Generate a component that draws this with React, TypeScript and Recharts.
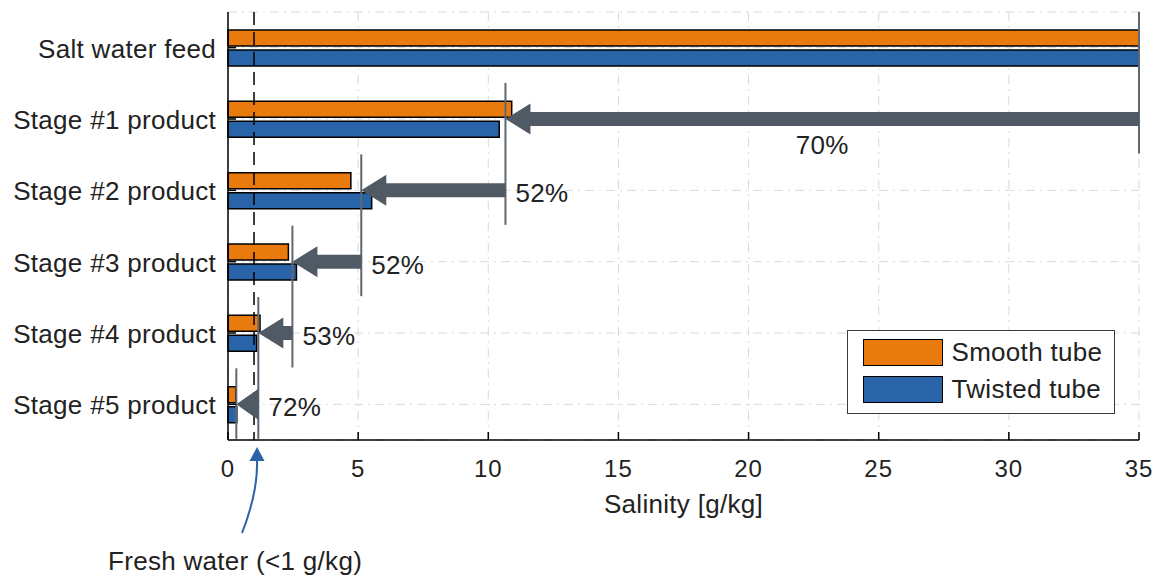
import React from 'react';
import { BarChart, Bar, XAxis, YAxis, CartesianGrid, Legend, ReferenceLine } from 'recharts';

// Salinity after each desalination stage, g/kg
const categories = [
  'Salt water feed',
  'Stage #1 product',
  'Stage #2 product',
  'Stage #3 product',
  'Stage #4 product',
  'Stage #5 product',
];
const smoothTube = [35, 10.9, 4.72, 2.32, 1.23, 0.3];
const twistedTube = [35, 10.42, 5.52, 2.63, 1.1, 0.34];
// salinity drop of each stage relative to its feed
const reductions = ['70%', '52%', '52%', '53%', '72%'];
const xTicks = [0, 5, 10, 15, 20, 25, 30, 35];
const freshWaterLimit = 1;

const data = categories.map((name, i) => ({ name, smooth: smoothTube[i], twisted: twistedTube[i] }));
const stageMeans = categories.map((_, i) => (smoothTube[i] + twistedTube[i]) / 2);

const FONT = '"Liberation Sans", Arial, Helvetica, sans-serif';
const TEXT = '#222';
const SMOOTH = '#E97B0E';
const TWISTED = '#2964A9';
const ARROW = '#505A64';
const MARK = '#5E6873';
const FRESH = '#2A63A8';

const textStyle = { fontFamily: FONT, fontSize: 26, letterSpacing: 0.3, fill: TEXT };

const BottomTick = (props: any) => {
  const { x, y, payload } = props;
  return (
    <g>
      <line x1={x} x2={x} y1={y} y2={y - 8} stroke="#000" strokeWidth={1.5} />
      <text x={x} y={y + 37} textAnchor="middle" style={{ ...textStyle, fontSize: 24, letterSpacing: 1 }}>
        {payload.value}
      </text>
    </g>
  );
};

const TopTick = (props: any) => {
  const { x, y } = props;
  return <line x1={x} x2={x} y1={y} y2={y + 8} stroke="#000" strokeWidth={1.5} />;
};

const LeftTick = (props: any) => {
  const { x, y, payload } = props;
  return (
    <g>
      <line x1={x} x2={x + 8} y1={y} y2={y} stroke="#000" strokeWidth={1.5} />
      <text x={x - 12} y={y + 10} textAnchor="end" style={textStyle}>
        {payload.value}
      </text>
    </g>
  );
};

const RightTick = (props: any) => {
  const { x, y } = props;
  return <line x1={x} x2={x - 8} y1={y} y2={y} stroke="#000" strokeWidth={1.5} />;
};

const AxisTitle = (props: any) => {
  const { viewBox } = props;
  return (
    <text x={viewBox.x + viewBox.width / 2} y={viewBox.y + 73} textAnchor="middle" style={textStyle}>
      Salinity [g/kg]
    </text>
  );
};

// vertical marker at a stage's mean salinity, reaching from its own row down to the next one
const StageMarker = (props: any) => {
  const { x1, y1, y2 } = props;
  return <line x1={x1} x2={x1} y1={y1 - 36} y2={y2 + 34.5} stroke={MARK} strokeWidth={2} />;
};

// block arrow from the previous stage's mean to this stage's mean
const makeArrow = (label: string, below: boolean) => (props: any) => {
  const { x1, x2, y1 } = props;
  const start = Math.max(x1, x2);
  const tip = Math.min(x1, x2);
  const head = Math.min(25, start - tip);
  const y = y1;
  const pts = [
    [tip, y],
    [tip + head, y - 15.5],
    [tip + head, y - 7],
    [start, y - 7],
    [start, y + 7],
    [tip + head, y + 7],
    [tip + head, y + 15.5],
  ]
    .map((p) => p.join(','))
    .join(' ');
  return (
    <g>
      <polygon points={pts} fill={ARROW} />
      {below ? (
        <text x={(start + tip) / 2} y={y + 35} textAnchor="middle" style={textStyle}>
          {label}
        </text>
      ) : (
        <text x={start + 10} y={y + 12} textAnchor="start" style={textStyle}>
          {label}
        </text>
      )}
    </g>
  );
};

const FreshWaterLine = (props: any) => {
  const { x1, y1, y2 } = props;
  const top = Math.min(y1, y2);
  const bottom = Math.max(y1, y2);
  return (
    <g>
      <line x1={x1} x2={x1} y1={top} y2={bottom} stroke="#000" strokeWidth={1.5} strokeDasharray="13 7" />
      <path
        d={`M${x1 - 12},${bottom + 93} Q${x1 + 4},${bottom + 52} ${x1 + 3},${bottom + 20}`}
        fill="none"
        stroke={FRESH}
        strokeWidth={2}
      />
      <polygon
        points={`${x1 + 3},${bottom + 7} ${x1 - 4.5},${bottom + 21} ${x1 + 10.5},${bottom + 21}`}
        fill={FRESH}
      />
      <text x={x1 - 146} y={bottom + 130} textAnchor="start" style={textStyle}>
        Fresh water (&lt;1 g/kg)
      </text>
    </g>
  );
};

const renderLegend = (props: any) => {
  const { payload } = props;
  return (
    <div
      style={{
        width: 268,
        height: 84,
        boxSizing: 'border-box',
        border: '1.5px solid #3a3a3a',
        background: '#fff',
        padding: '3px 0 0 14.5px',
        fontFamily: FONT,
      }}
    >
      {(payload || []).map((entry: any) => (
        <div key={entry.value} style={{ display: 'flex', alignItems: 'center', height: 37 }}>
          <span
            style={{
              display: 'inline-block',
              width: 80,
              height: 27,
              boxSizing: 'border-box',
              background: entry.color,
              border: '1.5px solid #000',
            }}
          />
          <span style={{ marginLeft: 9, fontSize: 26, letterSpacing: 0.3, color: TEXT }}>{entry.value}</span>
        </div>
      ))}
    </div>
  );
};

export default function App() {
  return (
    <div style={{ position: 'absolute', left: 0, top: 0, width: 1158, height: 578, background: '#fff' }}>
      <BarChart
        width={1158}
        height={578}
        data={data}
        layout="vertical"
        margin={{ top: 12, right: 19, bottom: 0, left: 0 }}
        barGap={4}
      >
        <CartesianGrid stroke="#d9d9d9" strokeDasharray="9 5 2 5" />
        <XAxis
          type="number"
          domain={[0, 35]}
          ticks={xTicks}
          height={138}
          axisLine={{ stroke: '#000', strokeWidth: 1.5 }}
          tickLine={false}
          tickSize={0}
          tickMargin={0}
          tick={<BottomTick />}
          label={{ value: 'Salinity [g/kg]', content: AxisTitle }}
        />
        <XAxis
          xAxisId="top"
          orientation="top"
          type="number"
          domain={[0, 35]}
          ticks={xTicks}
          height={0}
          axisLine={{ stroke: '#000', strokeWidth: 1.5 }}
          tickLine={false}
          tickSize={0}
          tickMargin={0}
          tick={<TopTick />}
        />
        <YAxis
          type="category"
          dataKey="name"
          width={228}
          axisLine={{ stroke: '#000', strokeWidth: 1.5 }}
          tickLine={false}
          tickSize={0}
          tickMargin={0}
          tick={<LeftTick />}
          interval={0}
        />
        <YAxis
          yAxisId="right"
          orientation="right"
          type="category"
          dataKey="name"
          width={0}
          axisLine={{ stroke: '#000', strokeWidth: 1.5 }}
          tickLine={false}
          tickSize={0}
          tickMargin={0}
          tick={<RightTick />}
          interval={0}
        />
        <Legend
          layout="vertical"
          align="center"
          verticalAlign="middle"
          wrapperStyle={{ left: 847, top: 330, width: 268, height: 84 }}
          content={renderLegend}
        />
        <Bar dataKey="smooth" name="Smooth tube" fill={SMOOTH} stroke="#000" strokeWidth={1.5} barSize={16} isAnimationActive={false} />
        <Bar dataKey="twisted" name="Twisted tube" fill={TWISTED} stroke="#000" strokeWidth={1.5} barSize={16} isAnimationActive={false} />

        <ReferenceLine x={freshWaterLimit} ifOverflow="visible" shape={(p: any) => <FreshWaterLine {...p} />} />

        {categories.map((cat, i) => (
          <ReferenceLine
            key={`marker-${cat}`}
            ifOverflow="visible"
            segment={[
              { x: stageMeans[i], y: cat },
              { x: stageMeans[i], y: categories[Math.min(i + 1, categories.length - 1)] },
            ]}
            shape={(p: any) => <StageMarker {...p} />}
          />
        ))}

        {reductions.map((label, i) => {
          const Arrow = makeArrow(label, i === 0);
          return (
            <ReferenceLine
              key={`arrow-${categories[i + 1]}`}
              ifOverflow="visible"
              segment={[
                { x: stageMeans[i], y: categories[i + 1] },
                { x: stageMeans[i + 1], y: categories[i + 1] },
              ]}
              shape={(p: any) => <Arrow {...p} />}
            />
          );
        })}
      </BarChart>
    </div>
  );
}
